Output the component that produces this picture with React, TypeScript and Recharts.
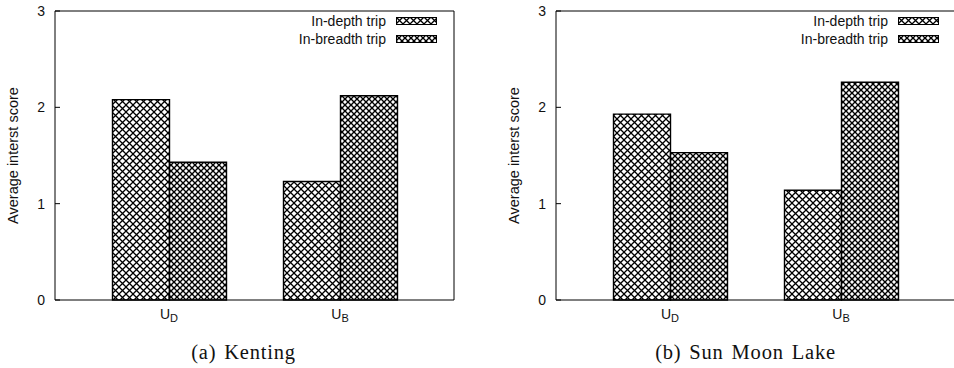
import { BarChart, Bar, XAxis, YAxis, Legend } from "recharts";

const categories = ["D", "B"];
const seriesNames = ["In-depth trip", "In-breadth trip"];
const kentingDepth = [2.08, 1.23];
const kentingBreadth = [1.43, 2.12];
const sunMoonDepth = [1.93, 1.14];
const sunMoonBreadth = [1.53, 2.26];
const yTicks = [0, 1, 2, 3];

const SANS = "'Liberation Sans', Arial, sans-serif";
const SERIF = "'Liberation Serif', 'Times New Roman', serif";

const build = (depth: number[], breadth: number[]) =>
  categories.map((c, i) => ({ name: c, depth: depth[i], breadth: breadth[i] }));

const Patterns = ({ id }: { id: string }) => (
  <defs>
    <pattern id={id + "-depth"} patternUnits="userSpaceOnUse" width={7} height={7}>
      <rect width={7} height={7} fill="#fff" />
      <path d="M-1,-1L8,8M8,-1L-1,8" stroke="#000" strokeWidth={1.3} />
    </pattern>
    <pattern id={id + "-breadth"} patternUnits="userSpaceOnUse" width={6} height={6}>
      <rect width={6} height={6} fill="#7a7a7a" />
      <path
        d="M-1,-1L7,7M7,-1L-1,7"
        stroke="#000"
        strokeWidth={1.1}
        shapeRendering="crispEdges"
      />
      <circle cx={3} cy={0} r={1.2} fill="#fff" />
      <circle cx={0} cy={3} r={1.2} fill="#fff" />
      <circle cx={6} cy={3} r={1.2} fill="#fff" />
      <circle cx={3} cy={6} r={1.2} fill="#fff" />
    </pattern>
  </defs>
);

const SubTick = (props: any) => {
  const { x, y, payload } = props;
  return (
    <text x={x} y={y} textAnchor="middle" fill="#111" fontFamily={SANS} fontSize={14}>
      <tspan>U</tspan>
      <tspan dy={3} fontSize={11}>
        {payload.value}
      </tspan>
    </text>
  );
};

const YLabel = (props: any) => {
  const { x, y, width, height } = props.viewBox;
  const cx = x + width - 42.5;
  const cy = y + height / 2;
  return (
    <text
      x={cx}
      y={cy}
      transform={`rotate(-90 ${cx} ${cy})`}
      textAnchor="middle"
      dominantBaseline="central"
      fill="#111"
      fontFamily={SANS}
      fontSize={14.5}
    >
      Average interst score
    </text>
  );
};

const LegendBox = ({ id }: { id: string }) => (
  <div style={{ fontFamily: SANS, fontSize: 14, color: "#111" }}>
    {seriesNames.map((n, i) => (
      <div
        key={n}
        style={{ display: "flex", justifyContent: "flex-end", alignItems: "center", height: 18 }}
      >
        <span style={{ marginRight: 10 }}>{n}</span>
        <svg width={41} height={8} style={{ display: "block" }}>
          <rect
            x={0.5}
            y={0.5}
            width={40}
            height={7}
            fill={`url(#${id}-${i === 0 ? "depth" : "breadth"})`}
            stroke="#000"
          />
        </svg>
      </div>
    ))}
  </div>
);

type PanelProps = {
  id: string;
  depth: number[];
  breadth: number[];
  width: number;
  axisWidth: number;
  marginRight: number;
  legendLeft: number;
};

const Panel = ({ id, depth, breadth, width, axisWidth, marginRight, legendLeft }: PanelProps) => {
  const pad = { left: 28.5, right: 28.5 };
  return (
    <BarChart
      width={width}
      height={368}
      data={build(depth, breadth)}
      margin={{ top: 10, right: marginRight, bottom: 38, left: 0 }}
      barGap={0}
      barSize={57}
    >
      <Patterns id={id} />
      <XAxis
        dataKey="name"
        padding={pad}
        height={30}
        axisLine={{ stroke: "#000" }}
        tickLine={{ stroke: "#000" }}
        tickSize={-5}
        tickMargin={24}
        tick={<SubTick />}
      />
      <XAxis
        xAxisId="top"
        dataKey="name"
        orientation="top"
        padding={pad}
        height={1}
        axisLine={{ stroke: "#000" }}
        tickLine={{ stroke: "#000" }}
        tickSize={-5}
        tick={false}
      />
      <YAxis
        type="number"
        domain={[0, 3]}
        ticks={yTicks}
        width={axisWidth}
        axisLine={{ stroke: "#000" }}
        tickLine={{ stroke: "#000" }}
        tickSize={-5}
        tickMargin={15}
        tick={{ fill: "#111", fontFamily: SANS, fontSize: 14 }}
        label={<YLabel />}
      />
      <YAxis
        yAxisId="right"
        orientation="right"
        type="number"
        domain={[0, 3]}
        ticks={yTicks}
        width={1}
        axisLine={{ stroke: "#000" }}
        tickLine={{ stroke: "#000" }}
        tickSize={-5}
        tick={false}
      />
      <Legend
        layout="vertical"
        align="center"
        verticalAlign="middle"
        content={() => <LegendBox id={id} />}
        wrapperStyle={{ top: 12, left: legendLeft, width: 200 }}
      />
      <Bar
        dataKey="depth"
        name={seriesNames[0]}
        fill={`url(#${id}-depth)`}
        stroke="#000"
        strokeWidth={1.4}
        isAnimationActive={false}
      />
      <Bar
        dataKey="breadth"
        name={seriesNames[1]}
        fill={`url(#${id}-breadth)`}
        stroke="#000"
        strokeWidth={1.4}
        isAnimationActive={false}
      />
    </BarChart>
  );
};

const captionStyle = (center: number): React.CSSProperties => ({
  position: "absolute",
  top: 339,
  left: center - 150,
  width: 300,
  textAlign: "center",
  fontFamily: SERIF,
  fontSize: 20.5,
  letterSpacing: 0.8,
  wordSpacing: 2,
  lineHeight: "26px",
  color: "#111",
});

export default function App() {
  return (
    <div
      style={{
        position: "absolute",
        left: 0,
        top: 0,
        width: 954,
        height: 368,
        overflow: "hidden",
        background: "#fff",
      }}
    >
      <div style={{ position: "absolute", left: 0, top: 0 }}>
        <Panel
          id="a"
          depth={kentingDepth}
          breadth={kentingBreadth}
          width={477}
          axisWidth={55}
          marginRight={22}
          legendLeft={237}
        />
      </div>
      <div style={{ position: "absolute", left: 477, top: 0 }}>
        <Panel
          id="b"
          depth={sunMoonDepth}
          breadth={sunMoonBreadth}
          width={480}
          axisWidth={79}
          marginRight={1}
          legendLeft={262}
        />
      </div>
      <div style={captionStyle(243.5)}>(a) Kenting</div>
      <div style={captionStyle(745.5)}>(b) Sun Moon Lake</div>
    </div>
  );
}
